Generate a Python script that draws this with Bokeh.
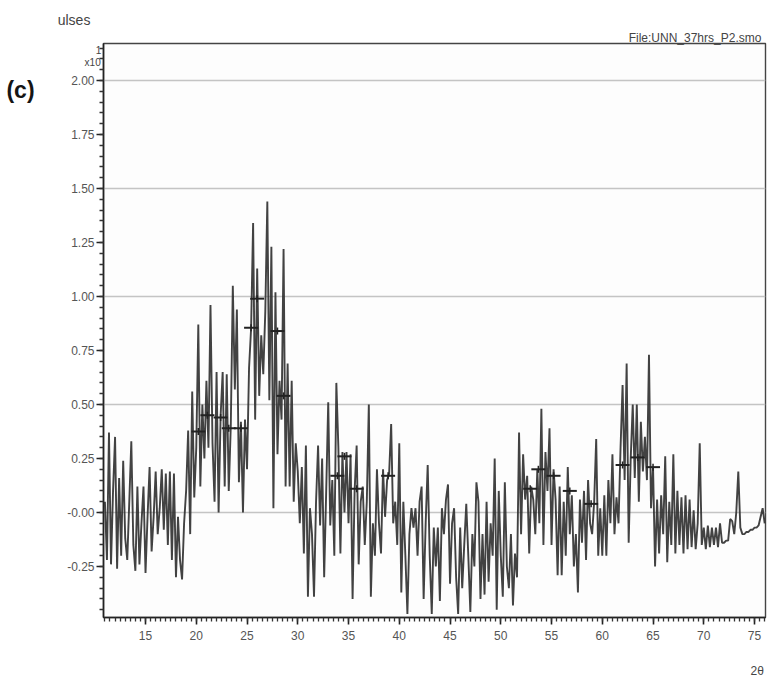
from bokeh.plotting import figure
from bokeh.models import (Range1d, SingleIntervalTicker, FixedTicker, Label,
                          CustomJSTickFormatter, ColumnDataSource)
from bokeh.embed import file_html
from bokeh.resources import INLINE

# 2-theta scan, 0.2 degree step starting at 11.0 degrees
two_theta_start = 11.0
two_theta_step = 0.2
intensity = [
    0.05, -0.22, 0.37, -0.24, 0.10,
    0.35, -0.26, 0.16, -0.20, 0.24,
    -0.12, -0.22, 0.05, 0.33, -0.15,
    -0.27, 0.12, -0.24, -0.05, 0.12,
    -0.28, -0.02, 0.21, -0.18, -0.02,
    0.19, -0.10, 0.02, 0.20, -0.08,
    0.18, -0.15, 0.19, -0.22, 0.18,
    -0.30, -0.02, -0.22, -0.31, -0.05,
    0.10, 0.38, -0.10, 0.56, 0.07,
    0.30, 0.87, 0.12, 0.50, 0.25,
    0.61, 0.30, 0.96, 0.32, 0.05,
    0.65, 0.00, 0.45, 0.65, 0.12,
    0.64, 0.10, 0.40, 1.05, 0.57,
    0.94, 0.14, 0.42, 0.00, 0.43,
    0.20, 0.67, 0.85, 1.34, 0.43,
    1.13, 0.54, 0.82, 0.64, 0.93,
    1.44, 0.52, 1.23, 0.02, 1.02,
    0.27, 0.61, 0.43, 1.22, 0.12,
    0.69, 0.12, 0.61, 0.05, 0.32,
    0.19, -0.05, 0.21, -0.19, 0.31,
    -0.39, 0.02, -0.10, -0.39, 0.05,
    0.31, -0.06, 0.25, -0.30, 0.10,
    0.51, -0.06, 0.15, -0.20, 0.60,
    0.30, -0.19, 0.28, 0.00, 0.28,
    -0.05, 0.27, -0.40, 0.10, 0.31,
    -0.24, 0.05, 0.12, -0.15, 0.05,
    0.50, -0.39, -0.05, -0.20, 0.20,
    -0.05, -0.19, 0.20, -0.02, 0.15,
    0.18, 0.41, -0.05, 0.05, -0.15,
    0.32, -0.37, 0.05, -0.20, -0.47,
    -0.10, 0.02, -0.07, 0.02, -0.20,
    0.05, 0.12, -0.40, -0.05, 0.22,
    -0.20, -0.47, -0.07, -0.25, -0.07,
    -0.41, 0.02, -0.10, 0.06, 0.13,
    -0.33, -0.05, 0.02, -0.30, -0.47,
    -0.07, -0.35, -0.15, 0.04, -0.20,
    -0.46, -0.10, -0.25, 0.14, 0.05,
    -0.40, -0.10, -0.38, 0.05, -0.32,
    -0.05, -0.20, 0.25, -0.45, 0.10,
    -0.20, -0.39, 0.14, -0.25, -0.35,
    -0.10, -0.43, -0.19, -0.30, 0.37,
    -0.10, 0.27, 0.06, 0.17, -0.19,
    0.12, 0.06, -0.10, 0.20, -0.05,
    0.48, -0.15, 0.28, 0.10, 0.39,
    -0.15, 0.20, 0.06, -0.29, 0.12,
    -0.29, 0.05, -0.20, 0.21, -0.10,
    0.08, -0.25, -0.10, -0.37, 0.06,
    -0.14, 0.10, -0.22, 0.15, -0.05,
    -0.10, 0.05, 0.34, -0.20, 0.02,
    -0.20, 0.08, -0.20, 0.15, -0.05,
    0.27, -0.10, 0.07, -0.05, 0.30,
    0.59, 0.15, 0.69, -0.14, 0.25,
    0.50, 0.16, 0.50, 0.05, 0.42,
    0.19, 0.35, 0.15, 0.73, 0.02,
    0.21, -0.25, 0.06, -0.19, 0.08,
    -0.10, 0.26, -0.23, 0.05, -0.15,
    0.27, -0.19, 0.10, -0.15, 0.07,
    -0.19, 0.08, -0.17, 0.06, -0.16,
    0.01, -0.17, -0.05, 0.32, -0.15,
    -0.07, -0.17, -0.06, -0.16, -0.07,
    -0.15, -0.07, -0.16, -0.05, -0.14,
    -0.14, -0.13, -0.13, -0.03, -0.04,
    -0.10, 0.00, 0.19, -0.07, -0.10,
    -0.10, -0.09, -0.09, -0.08, -0.08,
    -0.07, -0.07, -0.06, -0.02, 0.02,
    -0.05,
]
two_theta = [round(two_theta_start + i * two_theta_step, 2) for i in range(len(intensity))]

# Reflection markers (position, intensity)
peak_pos = [20.2, 21.1, 22.4, 23.2, 24.4, 25.4, 26.0, 28.0, 28.6,
            33.9, 34.6, 35.8, 38.9,
            52.9, 53.7, 55.2, 56.8, 58.9, 62.0, 63.5, 65.0]
peak_int = [0.375, 0.45, 0.44, 0.39, 0.39, 0.855, 0.99, 0.84, 0.54,
            0.17, 0.26, 0.11, 0.17,
            0.11, 0.20, 0.17, 0.10, 0.04, 0.22, 0.255, 0.21]

y_major = [-0.25, 0.0, 0.25, 0.5, 0.75, 1.0, 1.25, 1.5, 1.75, 2.0]
y_grid = [0.0, 0.5, 1.0, 1.5, 2.0]

FONT = "Liberation Sans"
INK = "#2e2e2e"

p = figure(width=770, height=679, output_backend="svg", toolbar_location=None,
           x_range=Range1d(10.86, 76.08), y_range=Range1d(-0.486, 2.171),
           min_border_left=103, min_border_right=5, min_border_top=43,
           min_border_bottom=62, background_fill_color="#fdfdfd",
           border_fill_color="#ffffff")

p.outline_line_color = "#444444"
p.outline_line_width = 1.4

p.xgrid.visible = False
p.ygrid.ticker = FixedTicker(ticks=y_grid)
p.ygrid.grid_line_color = "#c4c4c4"
p.ygrid.grid_line_width = 1.3

p.xaxis.ticker = SingleIntervalTicker(interval=5, num_minor_ticks=10)
p.yaxis.ticker = FixedTicker(ticks=y_major,
                             minor_ticks=[round(-0.45 + 0.05 * i, 2) for i in range(53)])
p.yaxis.formatter = CustomJSTickFormatter(
    code="return Math.abs(tick) < 1e-9 ? '-0.00' : tick.toFixed(2);")

for ax in (p.xaxis[0], p.yaxis[0]):
    ax.axis_line_color = "#222222"
    ax.axis_line_width = 1.6
    ax.major_tick_line_color = "#222222"
    ax.major_tick_line_width = 1.6
    ax.major_tick_in = 0
    ax.major_tick_out = 7
    ax.minor_tick_line_color = "#333333"
    ax.minor_tick_line_width = 1.3
    ax.minor_tick_in = 0
    ax.minor_tick_out = 4
    ax.major_label_text_font = FONT
    ax.major_label_text_font_size = "12px"
    ax.major_label_text_color = "#555555"
p.xaxis.major_label_standoff = 6
p.yaxis.major_label_standoff = 2

src = ColumnDataSource(dict(x=two_theta, y=intensity))
p.line("x", "y", source=src, line_color=INK, line_width=1.9, line_alpha=0.9)

p.scatter(peak_pos, peak_int, marker="dash", size=14, line_color="#222222",
          line_width=2)
p.scatter(peak_pos, peak_int, marker="dash", angle=1.5708, size=7,
          line_color="#222222", line_width=1.5)


# Header and axis annotations, kept in the border panels so they are not
# clipped to the plotting frame
def add_label(side, x, y, text, size, color="#444444", bold=False):
    p.add_layout(Label(x=x, y=y, text=text, text_font=FONT,
                       text_font_size=size, text_color=color,
                       text_align="left", text_baseline="alphabetic",
                       text_font_style="bold" if bold else "normal"), side)


add_label("above", 62.6, 2.195, "File:UNN_37hrs_P2.smo", "12px")
add_label("above", 6.35, 2.28, "ulses", "14px")
add_label("left", 9.0, 2.083, "x10", "10px")
add_label("left", 10.1, 2.139, "1", "10px")
add_label("left", 1.3, 1.958, "(c)", "23px", color="#151515", bold=True)
add_label("below", 74.6, -0.735, "2θ", "12px")

open("out.html", "w").write(file_html(p, INLINE))
